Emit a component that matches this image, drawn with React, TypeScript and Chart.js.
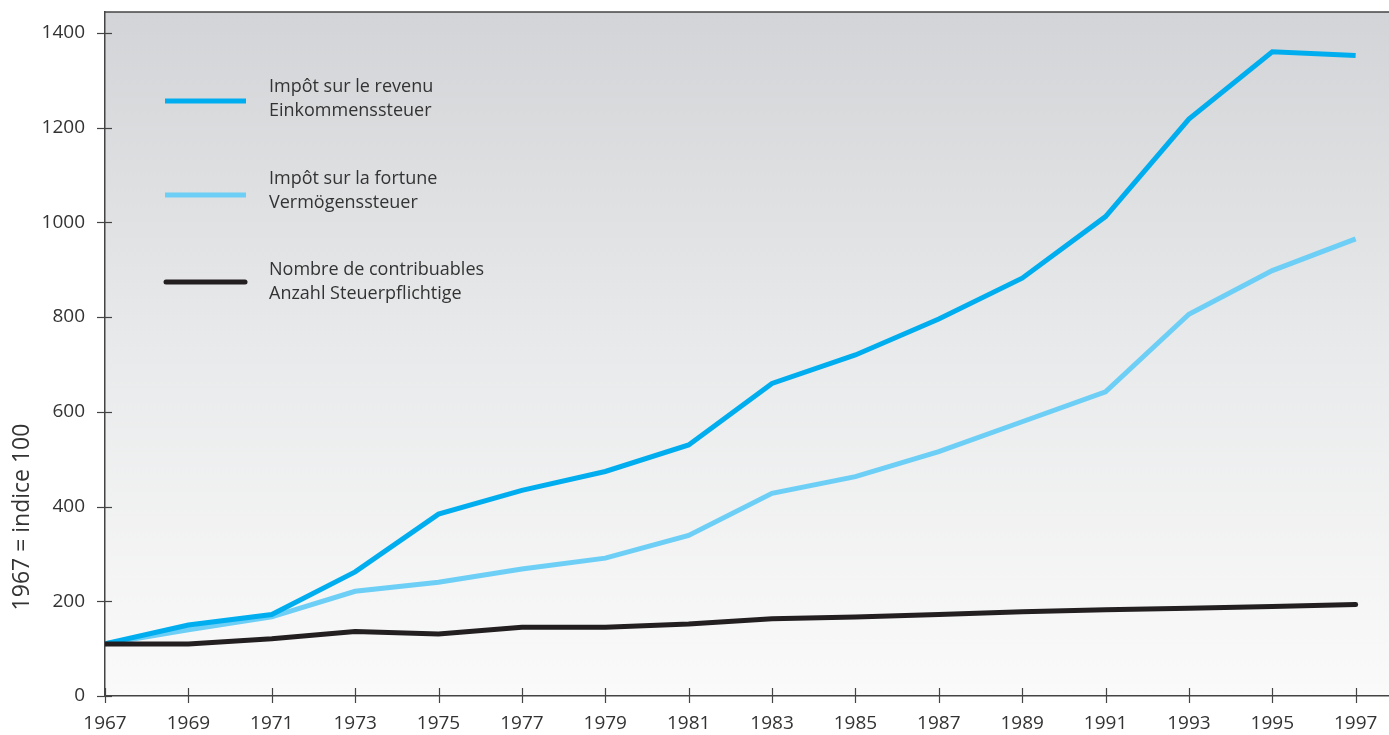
import React, { useEffect, useRef } from "react";
import { Chart, registerables } from "chart.js";

Chart.register(...registerables);

const years = [1967, 1969, 1971, 1973, 1975, 1977, 1979, 1981, 1983, 1985, 1987, 1989, 1991, 1993, 1995, 1997];
const incomeTax = [110, 150, 172, 262, 384, 434, 474, 530, 660, 720, 796, 882, 1012, 1218, 1360, 1352];
const wealthTax = [110, 140, 167, 221, 240, 268, 291, 339, 428, 463, 516, 579, 642, 806, 898, 965];
const taxpayers = [110, 110, 121, 136, 131, 145, 145, 152, 163, 167, 172, 178, 182, 185, 189, 193];
const yTicks = [0, 200, 400, 600, 800, 1000, 1200, 1400];

const legendItems = [
  { color: "#00aeef", cap: "butt", lines: ["Impôt sur le revenu", "Einkommenssteuer"] },
  { color: "#6dcff6", cap: "butt", lines: ["Impôt sur la fortune", "Vermögenssteuer"] },
  { color: "#231f20", cap: "round", lines: ["Nombre de contribuables", "Anzahl Steuerpflichtige"] },
];
const yTitle = "1967 = indice 100";

const FONT = "'Open Sans', 'Noto Sans', sans-serif";
const TEXT = "#333333";

const decorPlugin = {
  id: "decor",
  beforeDraw(chart: any) {
    const { ctx, chartArea } = chart;
    const { left, top, right, bottom } = chartArea;
    const g = ctx.createLinearGradient(0, top, 0, bottom);
    g.addColorStop(0, "#d3d4d7");
    g.addColorStop(0.5, "#e9eaeb");
    g.addColorStop(1, "#fafafa");
    ctx.save();
    ctx.fillStyle = g;
    ctx.fillRect(left, top, right - left, bottom - top);
    ctx.restore();
  },
  afterDraw(chart: any) {
    const { ctx, chartArea, scales } = chart;
    const { left, top, right, bottom } = chartArea;
    ctx.save();
    ctx.strokeStyle = "#444";
    ctx.lineWidth = 1.5;
    ctx.beginPath();
    ctx.moveTo(left, top);
    ctx.lineTo(right, top);
    ctx.stroke();
    ctx.lineWidth = 1.2;
    scales.y.ticks.forEach((t: any) => {
      const y = Math.round(scales.y.getPixelForValue(t.value)) + 0.5;
      ctx.beginPath();
      ctx.moveTo(left - 8, y);
      ctx.lineTo(left + 7, y);
      ctx.stroke();
    });
    scales.x.ticks.forEach((t: any) => {
      const x = Math.round(scales.x.getPixelForValue(t.value)) + 0.5;
      ctx.beginPath();
      ctx.moveTo(x, bottom - 8);
      ctx.lineTo(x, bottom + 7);
      ctx.stroke();
    });
    const lineY = [101, 195, 282];
    const textY = [87, 179, 270];
    legendItems.forEach((item, i) => {
      ctx.strokeStyle = item.color;
      ctx.lineWidth = 5;
      ctx.lineCap = item.cap;
      ctx.beginPath();
      ctx.moveTo(item.cap === "round" ? 166 : 165, lineY[i]);
      ctx.lineTo(item.cap === "round" ? 245 : 246, lineY[i]);
      ctx.stroke();
      ctx.fillStyle = TEXT;
      ctx.font = `18px ${FONT}`;
      ctx.textAlign = "left";
      ctx.textBaseline = "middle";
      item.lines.forEach((s, j) => ctx.fillText(s, 269, textY[i] + j * 24));
    });
    ctx.translate(22, 517);
    ctx.rotate(-Math.PI / 2);
    ctx.fillStyle = TEXT;
    ctx.font = `23px ${FONT}`;
    ctx.textAlign = "center";
    ctx.textBaseline = "middle";
    ctx.fillText(yTitle, 0, 0);
    ctx.restore();
  },
};

export default function App() {
  const ref = useRef<HTMLCanvasElement>(null);
  useEffect(() => {
    const mk = (vals: number[]) => years.map((x, i) => ({ x, y: vals[i] }));
    const chart = new Chart(ref.current as HTMLCanvasElement, {
      type: "line",
      data: {
        datasets: [
          { label: legendItems[2].lines[0], data: mk(taxpayers), borderColor: "#231f20", borderWidth: 5, borderCapStyle: "round", pointRadius: 0, tension: 0 },
          { label: legendItems[0].lines[0], data: mk(incomeTax), borderColor: "#00aeef", borderWidth: 5, pointRadius: 0, tension: 0 },
          { label: legendItems[1].lines[0], data: mk(wealthTax), borderColor: "#6dcff6", borderWidth: 5, pointRadius: 0, tension: 0 },
        ],
      } as any,
      options: {
        animation: false,
        responsive: false,
        devicePixelRatio: 1,
        layout: { padding: { top: 12, right: 0, left: 0, bottom: 0 } },
        plugins: { legend: { display: false }, tooltip: { enabled: false } },
        scales: {
          x: {
            type: "linear",
            min: 1967,
            max: 1997.8,
            afterBuildTicks: (axis: any) => {
              axis.ticks = years.map((v) => ({ value: v }));
            },
            afterFit: (axis: any) => {
              axis.height = 39;
              axis.paddingLeft = 0;
              axis.paddingRight = 0;
              axis.paddingTop = 0;
              axis.paddingBottom = 0;
            },
            grid: { display: false, drawTicks: false },
            border: { display: true, color: "#444", width: 1.5 },
            ticks: {
              autoSkip: false,
              maxRotation: 0,
              padding: 16,
              color: TEXT,
              font: { family: FONT, size: 19 },
              callback: (v: any) => String(v),
            },
          },
          y: {
            type: "linear",
            min: 0,
            max: 1444,
            afterBuildTicks: (axis: any) => {
              axis.ticks = yTicks.map((v) => ({ value: v }));
            },
            afterFit: (axis: any) => {
              axis.width = 105;
              axis.paddingTop = 0;
              axis.paddingBottom = 0;
              axis.paddingLeft = 0;
              axis.paddingRight = 0;
            },
            grid: { display: false, drawTicks: false },
            border: { display: true, color: "#444", width: 1.5 },
            ticks: {
              padding: 20,
              color: TEXT,
              font: { family: FONT, size: 19 },
              callback: (v: any) => String(v),
            },
          },
        },
      } as any,
      plugins: [decorPlugin],
    });
    return () => chart.destroy();
  }, []);
  return (
    <div style={{ position: "fixed", left: 0, top: 0, width: 1389, height: 735, background: "#fff" }}>
      <canvas ref={ref} width={1389} height={735} style={{ display: "block" }} />
    </div>
  );
}
